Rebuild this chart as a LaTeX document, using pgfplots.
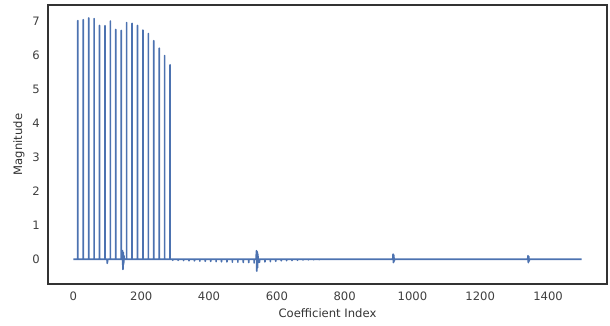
\documentclass[border=0pt]{standalone}
\usepackage{fontspec}
\setmainfont{DejaVu Sans}
\usepackage{pgfplots}
\pgfplotsset{compat=1.18}
\definecolor{sbblue}{HTML}{4C72B0}
\begin{document}
\fontsize{8.7}{10}\selectfont
\begin{tikzpicture}
\useasboundingbox (-36pt,-30.75pt) rectangle (421.5pt,213pt);
\begin{axis}[
  scale only axis,
  width=419.25pt, height=209.25pt,
  xmin=-75, xmax=1574, ymin=-0.73, ymax=7.48,
  xtick={0,200,...,1400}, ytick={0,1,...,7},
  major tick length=0pt,
  axis line style={draw=black!80, line width=0.8pt},
  tick label style={font=\fontsize{8.7}{10}\selectfont, text=black!75},
  label style={font=\fontsize{8.7}{10}\selectfont, text=black!80},
  /pgf/number format/assume math mode=true,
  /pgf/number format/set thousands separator={},
  xticklabel style={yshift=-3pt},
  yticklabel style={xshift=-3pt},
  xlabel={Coefficient Index}, ylabel={Magnitude},
  xlabel style={yshift=0pt},
  ylabel style={yshift=0pt},
]
\addplot[sbblue, line width=1.25pt, mark=none, line join=round] coordinates {
(0,0)(13,0)(13,7.02)(13,0)
(29,0)(29,7.05)(29,0)
(45,0)(45,7.10)(45,0)
(61,0)(61,7.08)(61,0)
(77,0)(77,6.88)(77,0)
(93,0)(93,6.87)(93,0)
(99,0)(100,-0.12)(101,0)
(109,0)(109,7.01)(109,0)
(125,0)(125,6.76)(125,0)
(141,0)(141,6.73)(141,0)
(144,0)(145,0.25)(146,-0.3)(147,0.2)(148,-0.15)(149,0.1)(150,0)
(157,0)(157,6.96)(157,0)
(173,0)(173,6.94)(173,0)
(189,0)(189,6.88)(189,0)
(205,0)(205,6.74)(205,0)
(221,0)(221,6.64)(221,0)
(237,0)(237,6.43)(237,0)
(253,0)(253,6.21)(253,0)
(269,0)(269,5.99)(269,0)
(285,0)(285,5.72)(285,0)
(293,0)(293,-0.03)(293,0)
(309,0)(309,-0.035)(309,0)
(325,0)(325,-0.04)(325,0)
(341,0)(341,-0.045)(341,0)
(357,0)(357,-0.05)(357,0)
(373,0)(373,-0.055)(373,0)
(389,0)(389,-0.06)(389,0)
(405,0)(405,-0.065)(405,0)
(421,0)(421,-0.07)(421,0)
(437,0)(437,-0.075)(437,0)
(453,0)(453,-0.08)(453,0)
(469,0)(469,-0.085)(469,0)
(485,0)(485,-0.09)(485,0)
(501,0)(501,-0.095)(501,0)
(517,0)(517,-0.10)(517,0)
(533,0)(533,-0.11)(533,0)
(539,0)(540,0.25)(541,-0.35)(542,0.22)(543,-0.25)(544,0.15)(545,-0.1)(546,0)
(549,0)(549,-0.09)(549,0)
(565,0)(565,-0.08)(565,0)
(581,0)(581,-0.07)(581,0)
(597,0)(597,-0.06)(597,0)
(613,0)(613,-0.05)(613,0)
(629,0)(629,-0.045)(629,0)
(645,0)(645,-0.04)(645,0)
(661,0)(661,-0.03)(661,0)
(677,0)(677,-0.025)(677,0)
(693,0)(693,-0.02)(693,0)
(709,0)(709,-0.02)(709,0)
(725,0)(725,-0.015)(725,0)
(942,0)(943,0.15)(944,-0.1)(945,0.12)(946,-0.06)(947,0)
(1340,0)(1341,0.1)(1342,-0.1)(1343,0.08)(1344,-0.06)(1345,0)
(1499,0)
};
\end{axis}
\end{tikzpicture}
\end{document}
